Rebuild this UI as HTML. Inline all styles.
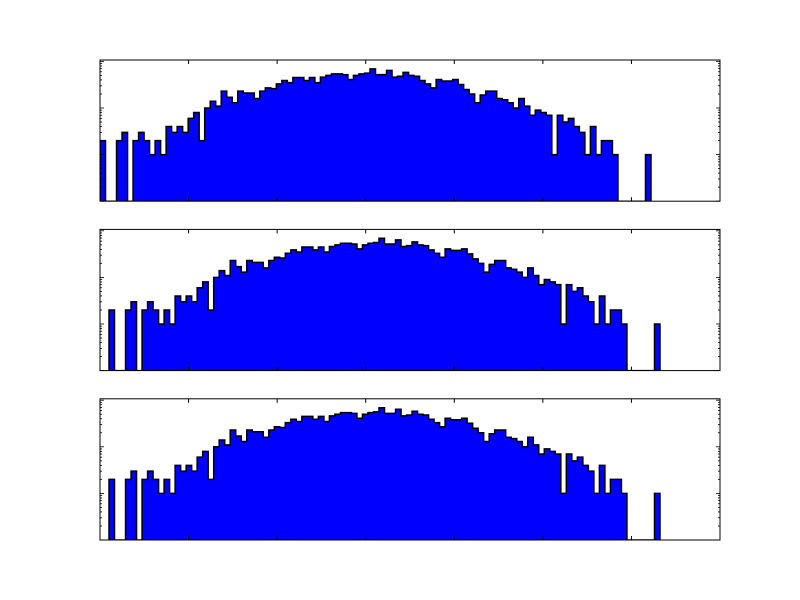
<!DOCTYPE html>
<html><head><meta charset="utf-8"><style>
html,body{margin:0;padding:0;background:#fff;}
svg{display:block;font-family:"Liberation Sans",sans-serif;}
</style></head><body>
<svg id="chart" width="800" height="600" viewBox="0 0 800 600">
<rect x="0" y="0" width="800" height="600" fill="#fff"/>
</svg>
<script>
// bin counts (100 bins)
const countsTop = [2,0,0,2,3,0,2,3,2,1,2,1,4,3,4,3,6,8,2,10,14,11,23,17,13,23,21,21,16,23,27,26,33,39,35,45,45,39,45,35,46,50,54,54,52,41,50,54,56,69,52,52,64,46,48,58,50,48,39,33,27,41,38,38,41,32,25,20,13,19,23,23,16,15,13,10,16,11,7,9,8,7,1,7,5,6,4,3,1,4,1,2,2,1,0,0,0,0,0,1];
const countsMid = countsTop.slice();
const countsBot = countsTop.slice();
const panelSeries = [countsTop, countsMid, countsBot];
const binOffsets = [0, 9, 9]; // px shift of the histogram in each panel

const svg = document.getElementById('chart');
const NS = 'http://www.w3.org/2000/svg';
const L = 100, R = 720, W = R - L;
const panelTops = [60, 229.4, 398.8];
const H = 141.2;
const YMIN = 0.1, YMAX = 0.1 * Math.pow(10, H / 46.6);
const binW = 5.51;

function mk(tag, attrs) { const e = document.createElementNS(NS, tag); for (const k in attrs) e.setAttribute(k, attrs[k]); return e; }

panelSeries.forEach((counts, p) => {
  const top = panelTops[p], bot = top + H;
  const yScale = v => bot - (Math.log10(Math.max(v, YMIN)) - Math.log10(YMIN)) / (Math.log10(YMAX) - Math.log10(YMIN)) * H;
  const xScale = i => L + binOffsets[p] + i * binW;
  const g = mk('g', {});
  
  
  svg.appendChild(g);
  const clipId = 'clip' + p;
  const cp = mk('clipPath', {id: clipId});
  cp.appendChild(mk('rect', {x: L, y: top, width: W, height: H}));
  g.appendChild(cp);
  // step path
  let d = 'M' + xScale(0) + ',' + bot;
  counts.forEach((c, i) => {
    const y = yScale(c);
    d += ' L' + xScale(i) + ',' + y + ' L' + xScale(i + 1) + ',' + y;
  });
  d += ' L' + xScale(counts.length) + ',' + bot + ' Z';
  const path = mk('path', {d: d, fill: '#0000ff', stroke: '#000', 'stroke-width': 1.5, 'clip-path': 'url(#' + clipId + ')'});
  
  
  g.appendChild(path);
  // frame
  const fr = mk('rect', {x: L, y: top, width: W, height: H, fill: 'none', stroke: '#000', 'stroke-width': 1});
  
  
  g.appendChild(fr);
  // x ticks
  for (let k = 1; k <= 6; k++) {
    const x = L + k * W / 7;
    g.appendChild(mk('line', {x1: x, x2: x, y1: bot, y2: bot - 4, stroke: '#000', 'stroke-width': 1}));
    g.appendChild(mk('line', {x1: x, x2: x, y1: top, y2: top + 4, stroke: '#000', 'stroke-width': 1}));
  }
  // y ticks (log)
  for (let e = -1; e <= 2; e++) {
    for (let m = 1; m <= 9; m++) {
      const v = m * Math.pow(10, e);
      if (v < YMIN || v > YMAX) continue;
      const y = yScale(v);
      const len = m === 1 ? 4 : 2;
      g.appendChild(mk('line', {x1: L, x2: L + len, y1: y, y2: y, stroke: '#000', 'stroke-width': 0.8}));
      g.appendChild(mk('line', {x1: R, x2: R - len, y1: y, y2: y, stroke: '#000', 'stroke-width': 0.8}));
    }
  }
});
</script>
</body></html>
